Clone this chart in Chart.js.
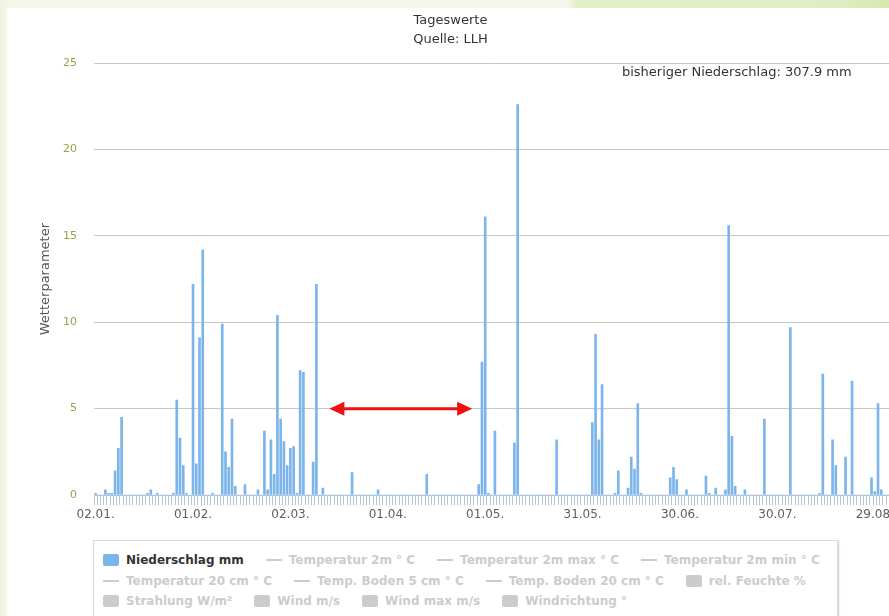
<!DOCTYPE html>
<html>
<head>
<meta charset="utf-8">
<script src="https://cdn.jsdelivr.net/npm/chart.js@4/dist/chart.umd.min.js"></script>
<style>
  html, body { margin: 0; padding: 0; }
  body {
    width: 889px; height: 616px; overflow: hidden; position: relative;
    background: linear-gradient(to right, #edf5db 0px, #f4f8ea 8px, #f4f8ea 568px, #e3f0c9 576px, #dfeec2 835px, #d6e9b1 889px);
  }
  #box { position: absolute; left: 7px; top: 8px; width: 900px; height: 620px; background: #fff; }
  #c { position: absolute; left: 0; top: 0; }
  #legend {
    position: absolute; left: 86px; top: 532px; width: 745px; height: 120px;
    box-sizing: border-box; padding: 9px 0 0 9px;
    border: 1px solid #dadada; box-shadow: 1px 1px 2px rgba(0, 0, 0, 0.2);
  }
  .row { display: flex; height: 20.5px; align-items: center; white-space: nowrap; }
  .item { display: flex; align-items: center; margin-right: 22px; font: bold 12px 'DejaVu Sans', Verdana, sans-serif; color: #333; }
  .item.off { color: #ccc; }
  .sym { margin-right: 7px; flex: none; }
  .sym.rect { width: 16px; height: 12px; border-radius: 2px; }
  .sym.line { width: 16px; height: 2px; }
</style>
</head>
<body>
<div id="box">
  <canvas id="c" width="887" height="530"></canvas>
  <div id="legend"></div>
</div>
<script>
// Niederschlag in mm pro Tag ab 02.01. (eine Zeile = 30 Tage)
const precipMm = [
  0.1, 0, 0, 0.3, 0.1, 0.1, 1.4, 2.7, 4.5, 0, 0, 0, 0, 0, 0, 0, 0.1, 0.3, 0, 0.1, 0, 0, 0, 0, 0.1, 5.5, 3.3, 1.7, 0.1, 0,
  12.2, 1.8, 9.1, 14.2, 0, 0, 0.1, 0, 0, 9.9, 2.5, 1.6, 4.4, 0.5, 0, 0, 0.6, 0, 0, 0, 0.3, 0, 3.7, 0.3, 3.2, 1.2, 10.4, 4.4, 3.1, 1.7,
  2.7, 2.8, 0.1, 7.2, 7.1, 0, 0, 1.9, 12.2, 0, 0.4, 0, 0, 0, 0, 0, 0, 0, 0, 1.3, 0, 0, 0, 0, 0, 0, 0, 0.3, 0, 0,
  0, 0, 0, 0, 0, 0, 0, 0, 0, 0, 0, 0, 1.2, 0, 0, 0, 0, 0, 0, 0, 0, 0, 0, 0, 0, 0, 0, 0, 0.6, 7.7,
  16.1, 0.1, 0, 3.7, 0, 0, 0, 0, 0, 3.0, 22.6, 0, 0, 0, 0, 0, 0, 0, 0, 0, 0, 0, 3.2, 0, 0, 0, 0, 0, 0, 0,
  0, 0, 0, 4.2, 9.3, 3.2, 6.4, 0, 0, 0, 0.1, 1.4, 0, 0, 0.4, 2.2, 1.5, 5.3, 0.1, 0, 0, 0, 0, 0, 0, 0, 0, 1.0, 1.6, 0.9,
  0, 0, 0.3, 0, 0, 0, 0, 0, 1.1, 0.1, 0, 0.4, 0, 0, 0.3, 15.6, 3.4, 0.5, 0, 0, 0.3, 0, 0, 0, 0, 0, 4.4, 0, 0, 0,
  0, 0, 0, 0, 9.7, 0, 0, 0, 0, 0, 0, 0, 0, 0.1, 7.0, 0, 0, 3.2, 1.7, 0, 0, 2.2, 0, 6.6, 0, 0, 0, 0, 0, 1.0,
  0.2, 5.3, 0.3, 0, 0, 0
]
const startDay = [2020, 0, 2]
const labelEvery = 30
const totalText = 'bisheriger Niederschlag: 307.9 mm'
const yTicks = [0, 5, 10, 15, 20, 25]

// ausgeblendete Reihen, nur in der Legende
const hiddenNames = [
  'Temperatur 2m ° C', 'Temperatur 2m max ° C', 'Temperatur 2m min ° C',
  'Temperatur 20 cm ° C', 'Temp. Boden 5 cm ° C', 'Temp. Boden 20 cm ° C', 'rel. Feuchte %',
  'Strahlung W/m²', 'Wind m/s', 'Wind max m/s', 'Windrichtung °'
]
const hiddenTypes = ['line', 'line', 'line', 'line', 'line', 'line', 'rect', 'rect', 'rect', 'rect', 'rect']

// Pfeil (Kategorie von/bis, Hoehe in mm)
const arrowFrom = 72
const arrowTo = 116
const arrowLevel = 5

const pad = n => String(n).padStart(2, '0')
const days = precipMm.map((v, i) => {
  const d = new Date(startDay[0], startDay[1], startDay[2] + i)
  return pad(d.getDate()) + '.' + pad(d.getMonth() + 1) + '.'
})

const FONT = "'DejaVu Sans', Verdana, sans-serif"
Chart.defaults.font.family = FONT

const datasets = [{
  label: 'Niederschlag mm',
  data: precipMm,
  backgroundColor: '#7cb5ec',
  barThickness: 2,
  legendSym: 'rect'
}]
hiddenNames.forEach((name, i) => {
  datasets.push({
    label: name,
    type: 'line',
    data: [],
    hidden: true,
    borderColor: '#ccc',
    backgroundColor: '#ccc',
    legendSym: hiddenTypes[i]
  })
})

const htmlLegend = {
  id: 'htmlLegend',
  afterUpdate (chart) {
    const el = document.getElementById('legend')
    el.innerHTML = ''
    const items = chart.options.plugins.legend.labels.generateLabels(chart)
    let row
    items.forEach((item, i) => {
      if (i % 4 === 0) {
        row = document.createElement('div')
        row.className = 'row'
        el.appendChild(row)
      }
      const ds = chart.data.datasets[item.datasetIndex]
      const div = document.createElement('div')
      div.className = 'item' + (item.hidden ? ' off' : '')
      const sym = document.createElement('span')
      sym.className = 'sym ' + ds.legendSym
      sym.style.background = item.hidden ? '#ccc' : ds.backgroundColor
      const txt = document.createElement('span')
      txt.textContent = item.text
      div.appendChild(sym)
      div.appendChild(txt)
      row.appendChild(div)
    })
  }
}

const extras = {
  id: 'extras',
  afterDatasetsDraw (chart) {
    const { ctx, chartArea, scales: { x, y } } = chart
    ctx.save()
    // Summe oben rechts
    ctx.font = '13px ' + FONT
    ctx.fillStyle = '#333'
    ctx.textAlign = 'right'
    ctx.textBaseline = 'middle'
    ctx.fillText(totalText, chartArea.right - 41, chartArea.top + 9)
    // roter Doppelpfeil
    const x1 = x.getPixelForValue(arrowFrom)
    const x2 = x.getPixelForValue(arrowTo)
    const yy = y.getPixelForValue(arrowLevel)
    const head = 15
    ctx.strokeStyle = '#f01010'
    ctx.fillStyle = '#f01010'
    ctx.lineWidth = 3
    ctx.beginPath()
    ctx.moveTo(x1 + head - 2, yy)
    ctx.lineTo(x2 - head + 2, yy)
    ctx.stroke()
    ctx.beginPath()
    ctx.moveTo(x1, yy)
    ctx.lineTo(x1 + head, yy - 7)
    ctx.lineTo(x1 + head, yy + 7)
    ctx.closePath()
    ctx.fill()
    ctx.beginPath()
    ctx.moveTo(x2, yy)
    ctx.lineTo(x2 - head, yy - 7)
    ctx.lineTo(x2 - head, yy + 7)
    ctx.closePath()
    ctx.fill()
    ctx.restore()
  }
}

const chart = new Chart(document.getElementById('c'), {
  type: 'bar',
  data: { labels: days, datasets },
  options: {
    responsive: false,
    animation: false,
    layout: { padding: 0 },
    plugins: {
      legend: { display: false },
      tooltip: { enabled: false },
      title: {
        display: true,
        text: 'Tageswerte',
        color: '#333',
        font: { size: 13, weight: 'normal' },
        padding: { top: 5, bottom: 0 }
      },
      subtitle: {
        display: true,
        text: 'Quelle: LLH',
        color: '#333',
        font: { size: 13, weight: 'normal' },
        padding: { top: 3, bottom: 16 }
      }
    },
    scales: {
      x: {
        afterFit (scale) { scale.height = 43 },
        grid: {
          drawOnChartArea: false,
          color: '#b2c5dc',
          tickLength: 10
        },
        border: { color: '#b2c5dc' },
        ticks: {
          autoSkip: false,
          maxRotation: 0,
          padding: 3,
          color: '#606060',
          font: { size: 12 },
          callback (value, index) {
            return index % labelEvery === 0 ? this.getLabelForValue(value) : ''
          }
        }
      },
      y: {
        min: 0,
        max: 25,
        afterFit (scale) { scale.width = 87 },
        afterBuildTicks (scale) { scale.ticks = yTicks.map(v => ({ value: v })) },
        border: { display: false },
        grid: {
          drawTicks: false,
          color: c => c.tick.value === 0 ? 'rgba(0,0,0,0)' : '#c6c6c6'
        },
        ticks: {
          padding: 17,
          color: '#9a9f48',
          font: { size: 11 }
        },
        title: {
          display: true,
          text: 'Wetterparameter',
          color: '#555',
          font: { size: 13 },
          padding: { top: 31, bottom: 0 }
        }
      }
    }
  },
  plugins: [htmlLegend, extras]
})
</script>
</body>
</html>
